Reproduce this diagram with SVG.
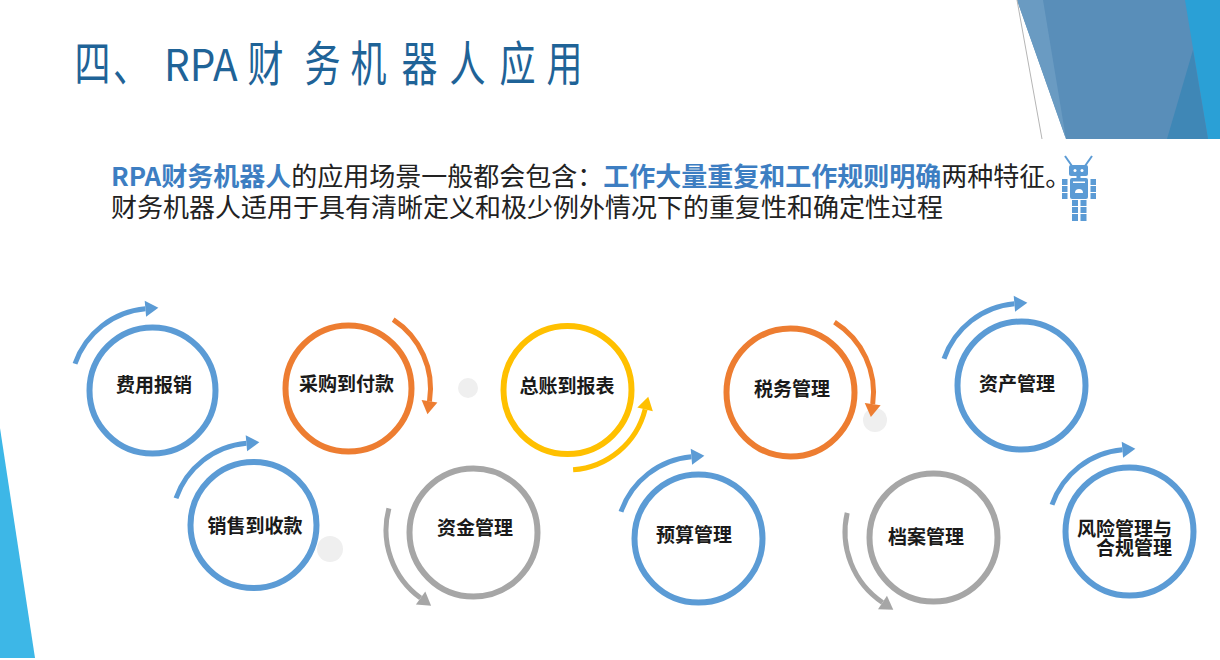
<svg xmlns="http://www.w3.org/2000/svg" width="1220" height="660" viewBox="0 0 1220 660">
  <style>
    .cjk { font-family: 'Noto Sans CJK SC', 'Noto Sans', sans-serif; }
    .title { font-size: 48px; fill: #1f6397; }
    .hd { font-size: 26px; fill: #222222; }
    .hb { font-weight: bold; fill: #3d7ec2; }
    .lbl { font-size: 19px; font-weight: bold; fill: #1a1a1a; text-anchor: middle; }
    .ring { fill: #ffffff; stroke-width: 6; }
    .arc { fill: none; stroke-width: 5; }
    .blue { stroke: #5b9bd5; }
    .orange { stroke: #ed7d31; }
    .yellow { stroke: #ffc000; }
    .gray { stroke: #a6a6a6; }
    .dot { fill: #efefef; }
    .robot { fill: #5b9bd5; }
  </style>
  <defs>
    <marker id="ahBlue" viewBox="-1 -9 16 18" refX="0" refY="0" markerWidth="16" markerHeight="18" markerUnits="userSpaceOnUse" orient="auto">
      <path d="M0,-8 L13,0 L0,8 Z" fill="#5b9bd5"/>
    </marker>
    <marker id="ahOrange" viewBox="-1 -9 16 18" refX="0" refY="0" markerWidth="16" markerHeight="18" markerUnits="userSpaceOnUse" orient="auto">
      <path d="M0,-8 L13,0 L0,8 Z" fill="#ed7d31"/>
    </marker>
    <marker id="ahYellow" viewBox="-1 -9 16 18" refX="0" refY="0" markerWidth="16" markerHeight="18" markerUnits="userSpaceOnUse" orient="auto">
      <path d="M0,-8 L13,0 L0,8 Z" fill="#ffc000"/>
    </marker>
    <marker id="ahGray" viewBox="-1 -9 16 18" refX="0" refY="0" markerWidth="16" markerHeight="18" markerUnits="userSpaceOnUse" orient="auto">
      <path d="M0,-8 L13,0 L0,8 Z" fill="#a6a6a6"/>
    </marker>
  </defs>

  <rect x="0" y="0" width="1220" height="660" fill="#ffffff"/>

  <!-- decoration -->
  <g id="decoration">
    <polygon points="1017,0 1220,0 1220,139 1066,139" fill="#598eb9"/>
    <polygon points="1017,0 1043,0 1066,139" fill="#6a9bc2"/>
    <polygon points="1185,0 1220,0 1220,139 1208,139" fill="#2aa0d6"/>
    <polygon points="1167,139 1193,50 1208,139" fill="#3f87b6"/>
    <line x1="1017" y1="0" x2="1042" y2="139" stroke="#b5b5b5" stroke-width="1"/>
    <polygon points="0,428 35,658 0,658" fill="#3db7e7"/>
  </g>

  <!-- title -->
  <g id="title" class="cjk title">
    <text transform="translate(0,81) scale(0.75,1)"><tspan x="99.3">四</tspan><tspan x="150.7">、</tspan><tspan x="330">财</tspan><tspan x="406">务</tspan><tspan x="467.3">机</tspan><tspan x="535.3">器</tspan><tspan x="599.3">人</tspan><tspan x="666">应</tspan><tspan x="728.7">用</tspan></text>
    <text transform="translate(0,81) scale(0.92,1)" x="178.3" style="font-size:44px">RPA</text>
  </g>

  <!-- header text -->
  <g id="header" class="cjk hd">
    <text x="111" y="186"><tspan class="hb">RPA财务机器人</tspan>的应用场景一般都会包含：<tspan class="hb">工作大量重复和工作规则明确</tspan>两种特征。</text>
    <text x="111" y="217">财务机器人适用于具有清晰定义和极少例外情况下的重复性和确定性过程</text>
  </g>

  <!-- robot icon -->
  <g id="robot" class="robot">
    <line x1="1065" y1="156" x2="1072" y2="166" stroke="#5b9bd5" stroke-width="2"/>
    <line x1="1092" y1="156" x2="1085" y2="166" stroke="#5b9bd5" stroke-width="2"/>
    <rect x="1069" y="165" width="19" height="11" rx="2"/>
    <circle cx="1075" cy="170.5" r="1.5" fill="#ffffff"/>
    <circle cx="1082" cy="170.5" r="1.5" fill="#ffffff"/>
    <rect x="1076.5" y="176" width="4" height="2.5"/>
    <rect x="1070" y="178" width="18" height="21" rx="2"/>
    <rect x="1073" y="181.5" width="12" height="1.5" fill="#ffffff"/>
    <path d="M1075,193 A4,4 0 0 1 1083,193 Z" fill="#ffffff"/>
    <rect x="1062" y="179" width="5.5" height="6"/>
    <rect x="1062" y="186" width="5.5" height="6"/>
    <rect x="1062" y="193" width="5.5" height="6"/>
    <rect x="1090.5" y="179" width="5.5" height="6"/>
    <rect x="1090.5" y="186" width="5.5" height="6"/>
    <rect x="1090.5" y="193" width="5.5" height="6"/>
    <rect x="1072" y="200" width="6" height="6"/>
    <rect x="1072" y="207" width="6" height="6"/>
    <rect x="1072" y="214" width="6" height="7"/>
    <rect x="1080.5" y="200" width="6" height="6"/>
    <rect x="1080.5" y="207" width="6" height="6"/>
    <rect x="1080.5" y="214" width="6" height="7"/>
  </g>

  <!-- background dots -->
  <g id="dots">
    <circle class="dot" cx="330" cy="549" r="13"/>
    <circle class="dot" cx="468" cy="388" r="10"/>
    <circle class="dot" cx="875" cy="420" r="12"/>
  </g>

  <!-- connectors (cycle arrows) -->
  <g id="connectors">
    <path class="arc blue" d="M75,363.8 A82,82 0 0 1 145.4,308.8" marker-end="url(#ahBlue)"/>
    <path class="arc blue" d="M176,498.3 A82,82 0 0 1 246.4,443.3" marker-end="url(#ahBlue)"/>
    <path class="arc orange" d="M393.2,319.7 A82,82 0 0 1 429.5,401.3" marker-end="url(#ahOrange)"/>
    <path class="arc gray" d="M388.9,508.3 A84,84 0 0 0 420.6,598" marker-end="url(#ahGray)"/>
    <path class="arc yellow" d="M573.1,469.8 A80,80 0 0 0 645.1,409.4" marker-end="url(#ahYellow)"/>
    <path class="arc blue" d="M621,511.8 A82,82 0 0 1 691.4,456.8" marker-end="url(#ahBlue)"/>
    <path class="arc orange" d="M834.5,322.1 A83,83 0 0 1 872.7,404.1" marker-end="url(#ahOrange)"/>
    <path class="arc gray" d="M847.2,512.9 A85,85 0 0 0 882.5,602.5" marker-end="url(#ahGray)"/>
    <path class="arc blue" d="M944,358.8 A82,82 0 0 1 1014.4,303.8" marker-end="url(#ahBlue)"/>
    <path class="arc blue" d="M1052,504.8 A82,82 0 0 1 1122.4,449.8" marker-end="url(#ahBlue)"/>
  </g>

  <!-- nodes -->
  <g id="node-fybx">
    <circle class="ring blue" cx="152.5" cy="390.5" r="63"/>
    <text class="cjk lbl" x="154" y="392">费用报销</text>
  </g>
  <g id="node-xsdsk">
    <circle class="ring blue" cx="253.5" cy="525" r="63"/>
    <text class="cjk lbl" x="255" y="533">销售到收款</text>
  </g>
  <g id="node-cgdfk">
    <circle class="ring orange" cx="348.5" cy="388.5" r="63"/>
    <text class="cjk lbl" x="346.5" y="391">采购到付款</text>
  </g>
  <g id="node-zjgl">
    <circle class="ring gray" cx="473.5" cy="532.5" r="64"/>
    <text class="cjk lbl" x="475" y="535">资金管理</text>
  </g>
  <g id="node-zzdbb">
    <circle class="ring yellow" cx="567.5" cy="390" r="64"/>
    <text class="cjk lbl" x="567" y="393">总账到报表</text>
  </g>
  <g id="node-ysgl">
    <circle class="ring blue" cx="698.5" cy="538.5" r="64"/>
    <text class="cjk lbl" x="694" y="542">预算管理</text>
  </g>
  <g id="node-swgl">
    <circle class="ring orange" cx="790.5" cy="392.5" r="64"/>
    <text class="cjk lbl" x="792" y="396">税务管理</text>
  </g>
  <g id="node-dagl">
    <circle class="ring gray" cx="933.5" cy="537.5" r="64"/>
    <text class="cjk lbl" x="926" y="544">档案管理</text>
  </g>
  <g id="node-zcgl">
    <circle class="ring blue" cx="1021.5" cy="385.5" r="64"/>
    <text class="cjk lbl" x="1017" y="391">资产管理</text>
  </g>
  <g id="node-fxgl">
    <circle class="ring blue" cx="1129.5" cy="531.5" r="64"/>
    <text class="cjk lbl" x="1172" y="536" style="text-anchor:end">风险管理与</text>
    <text class="cjk lbl" x="1172" y="555" style="text-anchor:end">合规管理</text>
  </g>
</svg>
